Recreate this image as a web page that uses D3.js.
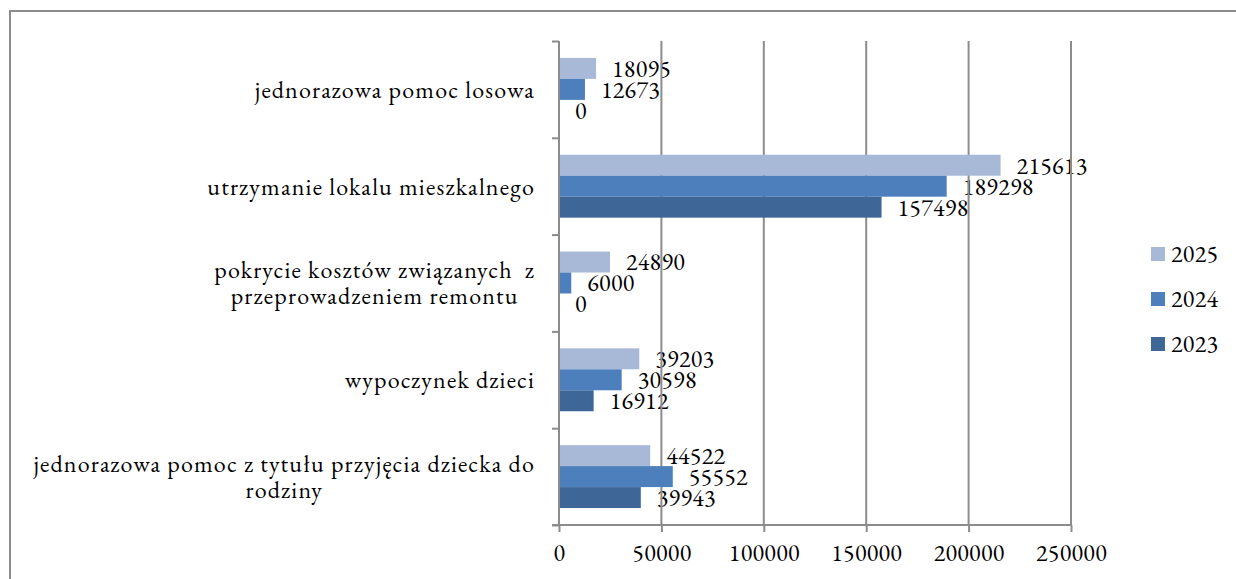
<!DOCTYPE html>
<html>
<head>
<meta charset="utf-8">
<script src="https://cdn.jsdelivr.net/npm/d3@7"></script>
<style>
  html, body { margin: 0; padding: 0; background: #fff; }
  svg { display: block; }
</style>
</head>
<body>
<svg id="chart" width="1236" height="579"></svg>
<script>
const categories = [
  ["jednorazowa pomoc losowa"],
  ["utrzymanie lokalu mieszkalnego"],
  ["pokrycie kosztów związanych  z", "przeprowadzeniem remontu"],
  ["wypoczynek dzieci"],
  ["jednorazowa pomoc z tytułu przyjęcia dziecka do", "rodziny"]
];
const seriesNames = ["2025", "2024", "2023"];
const values2025 = [18095, 215613, 24890, 39203, 44522];
const values2024 = [12673, 189298, 6000, 30598, 55552];
const values2023 = [0, 157498, 0, 16912, 39943];
const xTicks = [0, 50000, 100000, 150000, 200000, 250000];
const colors = ["#a8b9d8", "#4c7fbc", "#3e6697"];

const FONT = "'EB Garamond', 'Liberation Serif', serif";
const seriesValues = [values2025, values2024, values2023];
const svg = d3.select("#chart");

// outer frame
svg.append("rect").attr("x", 10).attr("y", 11).attr("width", 1240).attr("height", 600)
  .attr("fill", "none").attr("stroke", "#8c8c8c").attr("stroke-width", 2);

const pLeft = 559, pRight = 1071, pTop = 41, pBottom = 525;
const x = d3.scaleLinear().domain([0, 250000]).range([pLeft, pRight]);
const catIdx = d3.range(categories.length);
const y = d3.scaleBand().domain(catIdx).range([pTop, pBottom]).paddingInner(0.35).paddingOuter(0.175);
const ySeries = d3.scaleBand().domain(d3.range(seriesNames.length)).range([0, y.bandwidth()]);
const yTicks = d3.scaleLinear().domain([0, categories.length]).range([pTop, pBottom]);

// value labels (drawn below gridlines)
const labelsG = svg.append("g");
seriesValues.forEach((vals, s) => {
  labelsG.selectAll(null).data(vals).enter().append("text")
    .attr("x", d => x(d) + 16)
    .attr("y", (d, i) => y(i) + ySeries(s) + ySeries.bandwidth() / 2)
    .attr("dy", "0.35em")
    .attr("font-size", 24)
    .style("font-family", FONT)
    .style("letter-spacing", "0.3px")
    .attr("fill", "#000")
    .text(d => d);
});

// gridlines
const grid = svg.append("g");
grid.selectAll(null).data(xTicks.slice(1)).enter().append("line")
  .attr("x1", d => x(d)).attr("x2", d => x(d))
  .attr("y1", pTop).attr("y2", pBottom)
  .attr("stroke", "#8c8c8c").attr("stroke-width", 2);

// bars
seriesValues.forEach((vals, s) => {
  svg.append("g").selectAll(null).data(vals).enter().append("rect")
    .attr("x", x(0))
    .attr("y", (d, i) => y(i) + ySeries(s))
    .attr("width", d => x(d) - x(0))
    .attr("height", ySeries.bandwidth())
    .attr("fill", colors[s]);
});

// x axis
const xAxis = d3.axisBottom(x).tickValues(xTicks).tickSize(7).tickPadding(12).tickFormat(d => d);
const xg = svg.append("g").attr("transform", `translate(0,${pBottom})`).call(xAxis);
xg.select(".domain").attr("stroke", "#8c8c8c").attr("stroke-width", 2).attr("d", `M${pLeft - 7},0H${pRight}`);
xg.selectAll(".tick line").attr("stroke", "#8c8c8c").attr("stroke-width", 2);
xg.selectAll(".tick text").attr("font-size", 24).style("font-family", FONT)
  .style("letter-spacing", "0.3px").attr("fill", "#000");

// y axis
const yAxis = d3.axisLeft(yTicks).tickValues(d3.range(categories.length + 1)).tickSize(7).tickFormat("");
const yg = svg.append("g").attr("transform", `translate(${pLeft},0)`).call(yAxis);
yg.select(".domain").attr("stroke", "#8c8c8c").attr("stroke-width", 2).attr("d", `M0,${pTop}V${pBottom}`);
yg.selectAll(".tick line").attr("stroke", "#8c8c8c").attr("stroke-width", 2);

// category labels
const catRight = 535, lineH = 26;
categories.forEach((lines, i) => {
  const g = svg.append("g");
  const texts = lines.map((ln, k) => g.append("text")
    .attr("font-size", 24)
    .style("font-family", FONT)
    .style("letter-spacing", "1.2px")
    .style("white-space", "pre")
    .attr("fill", "#000")
    .attr("y", y(i) + y.bandwidth() / 2 + (k - (lines.length - 1) / 2) * lineH)
    .attr("dy", "0.35em")
    .text(ln));
  const widths = texts.map(t => t.node().getComputedTextLength());
  const maxW = d3.max(widths);
  texts.forEach(t => t.attr("text-anchor", "middle").attr("x", catRight - maxW / 2));
});

// legend
const legend = svg.append("g");
seriesNames.forEach((name, s) => {
  const ly = 254 + s * 45;
  legend.append("rect").attr("x", 1151).attr("y", ly - 7).attr("width", 14).attr("height", 14).attr("fill", colors[s]);
  legend.append("text").attr("x", 1171).attr("y", ly).attr("dy", "0.35em")
    .attr("font-size", 24).style("font-family", FONT).style("letter-spacing", "0.3px")
    .attr("fill", "#000").text(name);
});
</script>
</body>
</html>
